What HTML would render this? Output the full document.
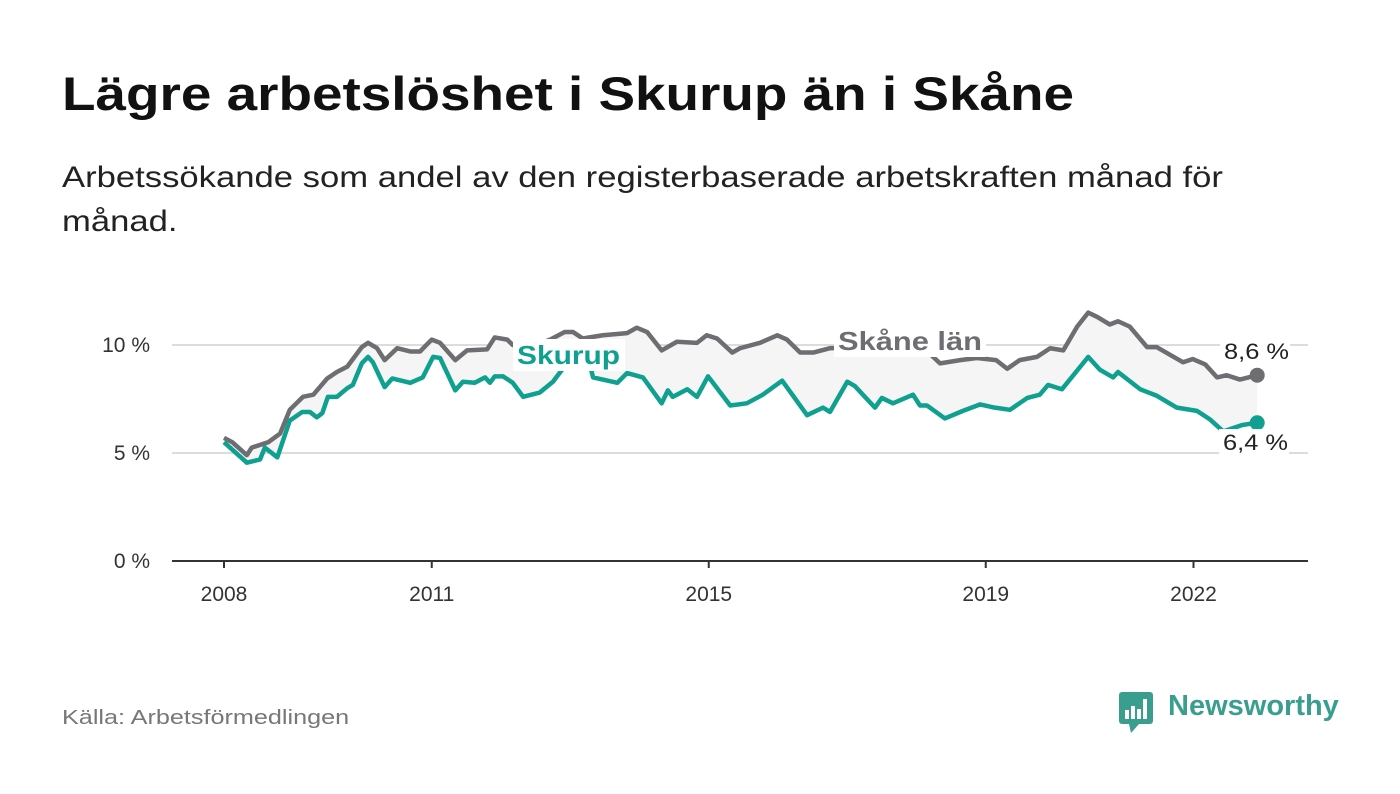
<!DOCTYPE html>
<html><head><meta charset="utf-8"><style>
body{margin:0;width:1400px;height:794px;background:#fff;font-family:"Liberation Sans",sans-serif;overflow:hidden;position:relative}
.t{position:absolute;margin:0;transform-origin:0 0;white-space:nowrap}
</style></head><body>
<h1 class="t" style="left:62px;top:66px;font-size:47px;font-weight:bold;color:#111;transform:scaleX(1.167)">Lägre arbetslöshet i Skurup än i Skåne</h1>
<p class="t" style="left:62px;top:156px;font-size:29.5px;line-height:44px;color:#222;transform:scaleX(1.174)">Arbetssökande som andel av den registerbaserade arbetskraften månad för<br>månad.</p>
<svg id="chart" width="1400" height="794" style="position:absolute;left:0;top:0"></svg>
<p class="t" style="left:62px;top:707px;font-size:20px;color:#777;transform:scaleX(1.26)">Källa: Arbetsförmedlingen</p>
<div style="position:absolute;left:1119px;top:690px">
<svg width="36" height="44"><rect x="0" y="2" width="34" height="32" rx="3" fill="#3a9e8f"/><polygon points="10,34 20,34 12,43" fill="#3a9e8f"/><rect x="6" y="20" width="4" height="9" fill="#fff"/><rect x="12" y="16" width="4" height="13" fill="#fff"/><rect x="18" y="19" width="4" height="10" fill="#fff"/><rect x="24" y="9" width="4" height="20" fill="#fff"/></svg>
<span style="position:absolute;left:49px;top:0;font-size:29px;font-weight:bold;color:#3a9e8f;white-space:nowrap">Newsworthy</span>
</div>
<script>
const skurupYears=[2008.0,2008.33,2008.52,2008.59,2008.77,2008.95,2009.13,2009.24,2009.34,2009.42,2009.5,2009.63,2009.78,2009.86,2009.99,2010.08,2010.15,2010.32,2010.43,2010.69,2010.87,2011.02,2011.12,2011.34,2011.45,2011.62,2011.77,2011.84,2011.91,2012.03,2012.17,2012.32,2012.56,2012.75,2012.88,2013.07,2013.21,2013.33,2013.68,2013.82,2014.05,2014.32,2014.41,2014.48,2014.69,2014.83,2014.99,2015.31,2015.55,2015.78,2016.06,2016.42,2016.65,2016.75,2017.0,2017.11,2017.4,2017.5,2017.66,2017.95,2018.05,2018.15,2018.41,2018.67,2018.92,2019.13,2019.35,2019.6,2019.78,2019.9,2020.1,2020.48,2020.65,2020.84,2020.91,2021.23,2021.47,2021.76,2022.05,2022.24,2022.43,2022.71,2022.92];
const skurupValues=[5.5,4.55,4.7,5.25,4.8,6.5,6.9,6.9,6.65,6.85,7.6,7.6,8.0,8.15,9.15,9.45,9.2,8.05,8.45,8.25,8.5,9.45,9.4,7.9,8.3,8.25,8.5,8.25,8.55,8.55,8.25,7.6,7.8,8.3,8.85,9.75,10.0,8.5,8.25,8.7,8.5,7.3,7.9,7.6,7.95,7.6,8.55,7.2,7.3,7.7,8.35,6.75,7.1,6.9,8.3,8.1,7.1,7.55,7.3,7.7,7.2,7.2,6.6,6.95,7.25,7.1,7.0,7.55,7.7,8.15,7.95,9.45,8.85,8.5,8.75,7.95,7.65,7.1,6.95,6.55,6.0,6.3,6.4];
const skaneYears=[2008.0,2008.12,2008.33,2008.4,2008.64,2008.81,2008.95,2009.14,2009.29,2009.49,2009.63,2009.78,2009.99,2010.08,2010.21,2010.32,2010.5,2010.69,2010.83,2011.0,2011.12,2011.34,2011.51,2011.8,2011.91,2012.09,2012.17,2012.42,2012.71,2012.92,2013.04,2013.18,2013.47,2013.82,2013.96,2014.11,2014.32,2014.54,2014.83,2014.97,2015.12,2015.34,2015.45,2015.74,2015.99,2016.13,2016.32,2016.51,2016.75,2017.18,2017.62,2017.98,2018.19,2018.34,2018.63,2018.87,2019.15,2019.31,2019.49,2019.74,2019.93,2020.12,2020.32,2020.48,2020.61,2020.79,2020.91,2021.08,2021.33,2021.47,2021.85,2021.99,2022.17,2022.34,2022.48,2022.67,2022.92];
const skaneValues=[5.7,5.5,4.9,5.25,5.5,5.9,7.0,7.6,7.7,8.45,8.75,9.0,9.9,10.1,9.85,9.3,9.85,9.7,9.7,10.25,10.1,9.3,9.75,9.8,10.35,10.25,10.0,9.9,10.25,10.6,10.6,10.3,10.45,10.55,10.8,10.6,9.75,10.15,10.1,10.45,10.3,9.65,9.85,10.1,10.45,10.25,9.65,9.65,9.85,9.9,9.75,9.85,9.6,9.15,9.3,9.4,9.3,8.9,9.3,9.45,9.85,9.75,10.85,11.5,11.3,10.95,11.1,10.85,9.9,9.9,9.2,9.35,9.1,8.5,8.6,8.4,8.6];
const yTicks=[0,5,10];
const yTickLabels=["0 %","5 %","10 %"];
const xTicks=[2008,2011,2015,2019,2022];
const xTickLabels=["2008","2011","2015","2019","2022"];
const lastLabels=["8,6 %","6,4 %"];

const NS="http://www.w3.org/2000/svg";
const svg=document.getElementById('chart');
const X=yr=>224+(yr-2008)*69.25;
const Y=v=>561-v*21.6;
function mk(tag,attrs,parent){const e=document.createElementNS(NS,tag);for(const k in attrs)e.setAttribute(k,attrs[k]);(parent||svg).appendChild(e);return e;}

yTicks.forEach((v,i)=>{
  if(v>0){const g=mk('line',{x1:172,x2:1308,y1:Y(v),y2:Y(v),stroke:'#dcdcdc','stroke-width':2});
  
  }
  const t=mk('text',{x:150,y:Y(v)+7,'text-anchor':'end','font-size':21,fill:'#333'});
  t.textContent=yTickLabels[i];
  
  
});
const pts=skaneYears.map((y,i)=>X(y)+','+Y(skaneValues[i])).concat(skurupYears.slice().reverse().map((y,i)=>X(y)+','+Y(skurupValues[skurupValues.length-1-i])));
const area=mk('polygon',{points:pts.join(' '),fill:'#f5f5f5'});


const ax=mk('line',{x1:172,x2:1308,y1:561,y2:561,stroke:'#333','stroke-width':2});


xTicks.forEach((yr,i)=>{
  const tk=mk('line',{x1:X(yr),x2:X(yr),y1:561,y2:568,stroke:'#333','stroke-width':2});
  
  
  const t=mk('text',{x:X(yr),y:601,'text-anchor':'middle','font-size':21,fill:'#333'});
  t.textContent=xTickLabels[i];
  
  
});
function line(years,vals,color,name){
  const p=mk('polyline',{points:years.map((y,i)=>X(y)+','+Y(vals[i])).join(' '),fill:'none',stroke:color,'stroke-width':4.5,'stroke-linejoin':'round'});
  
  
  const c=mk('circle',{cx:X(years[years.length-1]),cy:Y(vals[vals.length-1]),r:7.5,fill:color});
  
  
}
line(skaneYears,skaneValues,'#6e6d71','skane-line');
line(skurupYears,skurupValues,'#0fa090','skurup-line');
function label(x,y,txt,color,w,tl,name,bold,size){
  const r=mk('rect',{x:x-4,y:y-size+1,width:w,height:size+6,fill:'#fff'});
  
  
  const t=mk('text',{x:x,y:y,'font-size':size,fill:color,'font-weight':bold?'bold':'normal',textLength:tl,lengthAdjust:'spacingAndGlyphs'});
  t.textContent=txt;
  
  
}
label(517,364,'Skurup','#0fa090',112,103,'skurup-label',true,26);
label(838,350,'Skåne län','#6e6d71',152,144,'skane-label',true,26);
label(1224,359,lastLabels[0],'#222',70,65,'skane-last-value',false,22);
label(1223,450,lastLabels[1],'#222',70,65,'skurup-last-value',false,22);
</script>
</body></html>
